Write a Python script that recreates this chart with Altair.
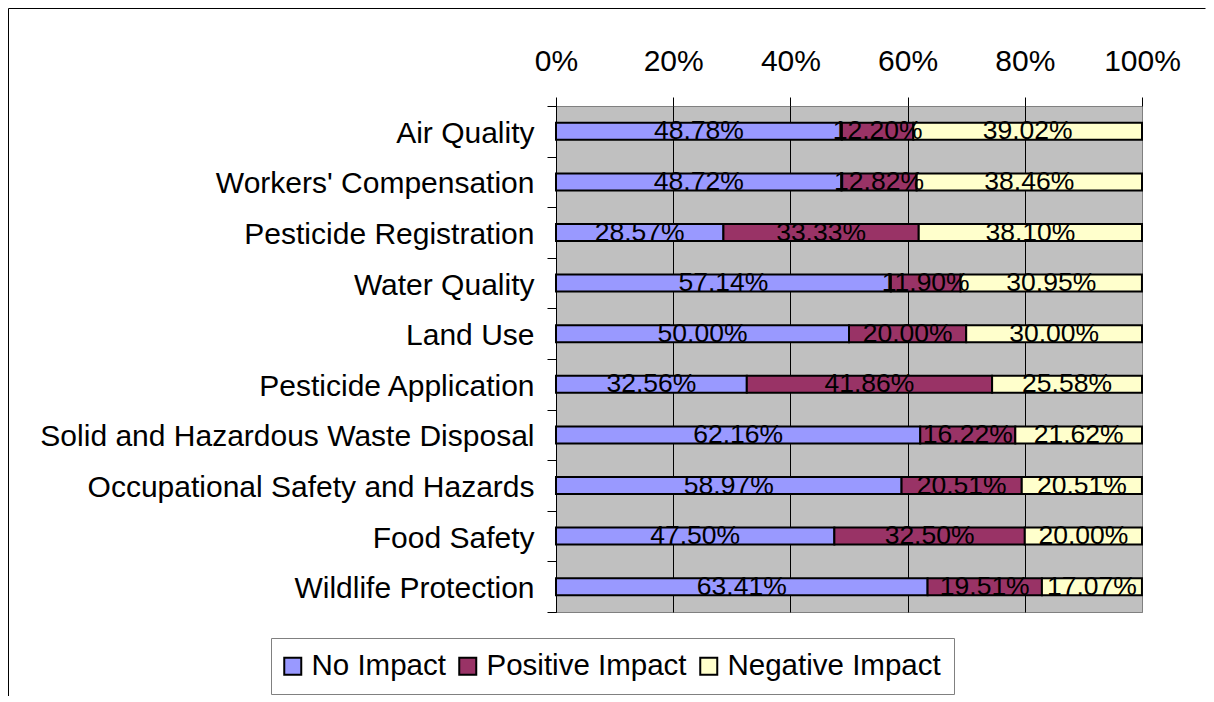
import altair as alt
import pandas as pd

categories = [
    "Air Quality",
    "Workers' Compensation",
    "Pesticide Registration",
    "Water Quality",
    "Land Use",
    "Pesticide Application",
    "Solid and Hazardous Waste Disposal",
    "Occupational Safety and Hazards",
    "Food Safety",
    "Wildlife Protection",
]
no_impact = [48.78, 48.72, 28.57, 57.14, 50.00, 32.56, 62.16, 58.97, 47.50, 63.41]
positive_impact = [12.20, 12.82, 33.33, 11.90, 20.00, 41.86, 16.22, 20.51, 32.50, 19.51]
negative_impact = [39.02, 38.46, 38.10, 30.95, 30.00, 25.58, 21.62, 20.51, 20.00, 17.07]
series = ["No Impact", "Positive Impact", "Negative Impact"]
colors = ["#9999FF", "#993366", "#FFFFCC"]
x_ticks = [0, 0.2, 0.4, 0.6, 0.8, 1.0]

rows = []
for s_idx, (name, vals) in enumerate(zip(series, [no_impact, positive_impact, negative_impact])):
    for cat, v in zip(categories, vals):
        rows.append({"category": cat, "series": name, "order": s_idx, "value": v / 100.0})
df = pd.DataFrame(rows)

FONT = "Liberation Sans"

base = (
    alt.Chart(df)
    .transform_stack(
        stack="value",
        as_=["v0", "v1"],
        groupby=["category"],
        sort=[alt.SortField("order", order="ascending")],
    )
    .transform_calculate(mid="(datum.v0 + datum.v1) / 2")
)

y_enc = alt.Y(
    "category:N",
    sort=categories,
    scale=alt.Scale(paddingInner=0, paddingOuter=0),
    axis=alt.Axis(
        title=None,
        orient="left",
        labelFontSize=30,
        labelFont=FONT,
        labelColor="black",
        labelPadding=13,
        labelOffset=2,
        labelLimit=700,
        tickSize=9,
        tickBand="extent",
        tickColor="black",
        tickWidth=1,
        domainColor="black",
        domainWidth=1,
        grid=False,
    ),
)

x_scale = alt.Scale(domain=[0, 1], nice=False, clamp=True)

bars = base.mark_bar(size=17, stroke="black", strokeWidth=2).encode(
    x=alt.X(
        "v0:Q",
        scale=x_scale,
        axis=alt.Axis(
            title=None,
            orient="top",
            values=x_ticks,
            format=".0%",
            labelFontSize=30,
            labelFont=FONT,
            labelColor="black",
            labelFlush=False,
            labelBaseline="alphabetic",
            labelPadding=27,
            tickSize=9,
            tickColor="black",
            tickWidth=1,
            domain=False,
            grid=True,
            gridColor={"condition": {"test": "datum.value >= 1", "value": "#808080"}, "value": "black"},
            gridWidth=1,
            gridOpacity=1,
        ),
    ),
    x2="v1:Q",
    y=y_enc,
    color=alt.Color(
        "series:N",
        scale=alt.Scale(domain=series, range=colors),
        legend=alt.Legend(
            title=None,
            orient="none",
            legendX=-285,
            legendY=532,
            direction="horizontal",
            labelFontSize=29.5,
            labelFont=FONT,
            labelColor="black",
            labelLimit=600,
            symbolType="square",
            symbolSize=289,
            symbolStrokeColor="black",
            symbolStrokeWidth=2,
            symbolOffset=-6,
            strokeColor="#808080",
            fillColor="white",
            padding=13,
            labelOffset=4,
            columnPadding=9,
        ),
    ),
    order=alt.Order("order:Q"),
)

labels = base.mark_text(
    fontSize=26.5, font=FONT, color="black", align="center", baseline="middle"
).encode(
    x=alt.X("mid:Q", scale=x_scale),
    y=alt.Y("category:N", sort=categories),
    text=alt.Text("value:Q", format=".2%"),
)

border_top = (
    alt.Chart(pd.DataFrame({"k": [0]}))
    .mark_rule(stroke="black", strokeWidth=1)
    .encode(x=alt.value(-547.5), x2=alt.value(649.5), y=alt.value(-97.5))
)
border_left = (
    alt.Chart(pd.DataFrame({"k": [0]}))
    .mark_rule(stroke="black", strokeWidth=1)
    .encode(x=alt.value(-547.5), y=alt.value(-97.5), y2=alt.value(591.5))
)

chart = (
    alt.layer(border_top, border_left, bars, labels)
    .properties(
        width=586,
        height=506,
        autosize="none",
        padding={"left": 548, "top": 98, "right": 64, "bottom": 84},
    )
    .configure(background="white")
    .configure_view(fill="#C0C0C0", stroke="#808080", strokeWidth=1)
)

chart.save("out.html", embed_options={"renderer": "svg", "actions": False})
